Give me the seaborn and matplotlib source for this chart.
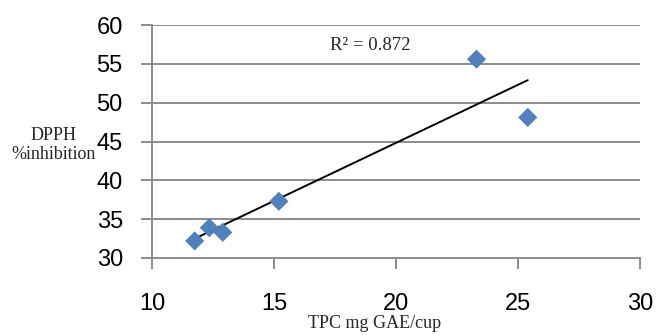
import numpy as np
import pandas as pd
import matplotlib
matplotlib.use("Agg")
import matplotlib.pyplot as plt
import seaborn as sns

# Data
tpc = [11.75, 12.35, 12.9, 15.2, 23.3, 25.4]
dpph = [32.2, 33.9, 33.3, 37.3, 55.6, 48.1]
x_ticks = [10, 15, 20, 25, 30]
y_ticks = [30, 35, 40, 45, 50, 55, 60]
r2_text = "R² = 0.872"
x_label = "TPC mg GAE/cup"
y_label = "DPPH\n%inhibition"

df = pd.DataFrame({"TPC": tpc, "DPPH": dpph})

sns.set_theme(style="white")
plt.rcParams['font.family'] = ['Liberation Sans', 'DejaVu Sans']

fig = plt.figure(figsize=(6.56, 3.35), dpi=100)
ax = fig.add_axes([152/656, 1-258/335, (640-152)/656, (258-25)/335])

grid_c = "#8c8c8c"
for yv in y_ticks[1:]:
    ax.axhline(yv, color=grid_c, lw=1.4, zorder=0)

sns.regplot(data=df, x="TPC", y="DPPH", ax=ax, scatter=False, ci=None,
            truncate=True, line_kws=dict(color="black", lw=1.4))
sns.scatterplot(data=df, x="TPC", y="DPPH", ax=ax, marker="D", s=95,
                color="#4F81BD", edgecolor="none", zorder=3)

ax.set_xlim(10, 30)
ax.set_ylim(30, 60)
ax.set_xticks(x_ticks)
ax.set_yticks(y_ticks)
ax.tick_params(axis="both", labelsize=17, colors=grid_c, labelcolor="black",
               length=8, width=1.4, direction="out")
ax.tick_params(axis="x", pad=17)
ax.tick_params(axis="y", pad=13)
ax.tick_params(axis="x", bottom=True)
ax.tick_params(axis="y", left=True)

for s in ["top", "right"]:
    ax.spines[s].set_visible(False)
for s in ["left", "bottom"]:
    ax.spines[s].set_color(grid_c)
    ax.spines[s].set_linewidth(1.4)

ax.set_xlabel("")
ax.set_ylabel("")
serif = ['Liberation Serif', 'DejaVu Serif']
fig.text(375/656, 1-324/335, x_label, ha="center", va="center",
         fontsize=13, family=serif)
fig.text(54/656, 1-145/335, y_label, ha="center", va="center",
         fontsize=13, family=serif, linespacing=1.2)
ax.text(17.3, 57.4, r2_text, ha="left", va="center", fontsize=13.5,
        family=serif)

fig.savefig("out.png", dpi=100)
